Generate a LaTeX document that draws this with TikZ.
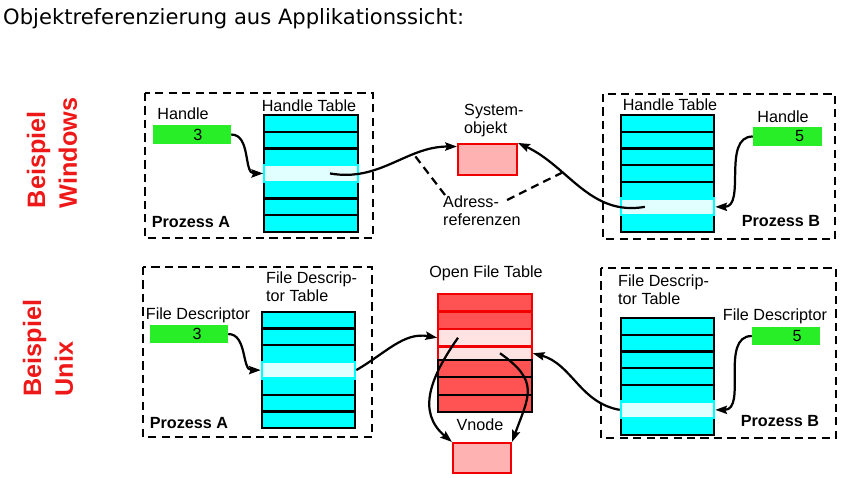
\documentclass[tikz,border=0pt]{standalone}
\usepackage{fontspec}
\setmainfont{Liberation Sans}
\newfontfamily\titlefont{DejaVu Sans}
\usetikzlibrary{arrows.meta}
\definecolor{tabcyan}{RGB}{0,255,255}
\definecolor{tablight}{RGB}{225,255,255}
\definecolor{idgreen}{RGB}{40,238,40}
\definecolor{objred}{RGB}{240,0,0}
\definecolor{objpink}{RGB}{255,178,178}
\definecolor{oftred}{RGB}{255,82,82}
\definecolor{oftlight}{RGB}{255,226,226}
\definecolor{exred}{RGB}{238,24,24}

\begin{document}
\begin{tikzpicture}[x=0.03cm, y=-0.03cm,
    txt/.style={font=\fontsize{13.8}{15}\selectfont, inner sep=0pt, align=left},
    bold/.style={txt, font=\fontsize{13.8}{15}\selectfont\bfseries},
    example/.style={rotate=90, align=left, text=exred, inner sep=0pt,
                    font=\fontsize{21.5}{27}\selectfont\bfseries},
    procbox/.style={draw, line width=2pt, dash pattern=on 7pt off 4.5pt},
    cell/.style={draw=black, fill=tabcyan, line width=1.9pt, inner sep=0pt,
                 minimum width=2.8cm, minimum height=0.5cm},
    hl/.style={draw=tabcyan, fill=tablight},
    idbox/.style={fill=idgreen, inner sep=0pt, minimum height=0.56cm,
                  font=\fontsize{13.8}{15}\selectfont},
    obj/.style={draw=objred, fill=objpink, line width=1.8pt, inner sep=0pt},
    ofrow/.style={draw=objred, fill=oftred, line width=1.8pt, inner sep=0pt,
                  minimum width=2.8cm},
    link/.style={-{Stealth[length=10pt, width=7pt, inset=1.5pt]}, line width=1.9pt},
    refline/.style={line width=1.9pt, dash pattern=on 7pt off 4.5pt}
  ]
    \useasboundingbox (0,0) rectangle (843,477);

    \node[anchor=base west, inner sep=0pt, font=\titlefont\fontsize{18}{20}\selectfont]
      (title) at (3,24) {Objektreferenzierung aus Applikationssicht:};

    \node[example] (exwin) at (52,153) {Beispiel\\Windows};
    \node[example] (exunix) at (48,348) {Beispiel\\Unix};

    % Windows
    \draw[procbox] (145,93) rectangle (373,238);
    \draw[procbox] (603,94) rectangle (835,239);

    \node[txt] (hdla) at (183,114) {Handle};
    \node[idbox, minimum width=2.34cm] (hda) at (192,134.5) {\hspace*{0.35cm}3};
    \node[txt] (htla) at (309,106) {Handle Table};
    \foreach \i in {1,2,3,5,6,7}
      \node[cell] (hta\i) at (311,{115+16.7*(\i-0.5)}) {};
    \node[cell, hl] (hta4) at (311,{115+16.7*3.5}) {};
    \node[bold] (pwa) at (191,222) {Prozess A};

    \node[txt] (hdlb) at (783,117) {Handle};
    \node[idbox, minimum width=2.07cm] (hdb) at (787.5,136.5) {\hspace*{0.72cm}5};
    \node[txt] (htlb) at (670,105) {Handle Table};
    \foreach \i in {1,...,5,7}
      \node[cell] (htb\i) at (667.5,{115+16.7*(\i-0.5)}) {};
    \node[cell, hl] (htb6) at (667.5,{115+16.7*5.5}) {};
    \node[bold] (pwb) at (781,221) {Prozess B};

    \node[txt, anchor=north west] (syslbl) at (464,104) {System-\\objekt};
    \node[obj, minimum width=1.77cm, minimum height=0.93cm] (sysobj) at (487.5,159.5) {};
    \node[txt, anchor=north west] (adr) at (443,196) {Adress-\\referenzen};
    \coordinate (adrl) at (445,195);
    \coordinate (adrr) at (507,200);

    \draw[link] (hda.east) to[out=0, in=180] (hta4.west);
    \draw[link] ([xshift=0.57cm]hta4.center) to[out=-10, in=180]
      coordinate[pos=0.68] (refa) (sysobj.157);
    \draw[link] (hdb.west) to[out=180, in=0] (htb6.east);
    \draw[link] ([xshift=-0.68cm]htb6.center) to[out=190, in=-25]
      coordinate[pos=0.66] (refb) (sysobj.north east);
    \draw[refline] (adrl) -- (refa);
    \draw[refline] (adrr) -- (refb);

    % Unix
    \draw[procbox] (143,267) rectangle (372,437);
    \draw[procbox] (601,268) rectangle (836,438);

    \node[txt] (fdla) at (198,315) {File Descriptor};
    \node[idbox, minimum width=2.34cm] (fda) at (189,334) {\hspace*{0.48cm}3};
    \node[txt, anchor=north west] (ftla) at (266,272) {File Descrip-\\tor Table};
    \foreach \i in {1,2,3,5,6,7}
      \node[cell] (fta\i) at (308.5,{312+16.6*(\i-0.5)}) {};
    \node[cell, hl] (fta4) at (308.5,{312+16.6*3.5}) {};
    \node[bold] (pua) at (189,423) {Prozess A};

    \node[txt] (fdlb) at (775,316) {File Descriptor};
    \node[idbox, minimum width=2.04cm] (fdb) at (786,336) {\hspace*{0.66cm}5};
    \node[txt, anchor=north west] (ftlb) at (618,275) {File Descrip-\\tor Table};
    \foreach \i in {1,...,5,7}
      \node[cell] (ftb\i) at (667.5,{318+16.7*(\i-0.5)}) {};
    \node[cell, hl] (ftb6) at (667.5,{318+16.7*5.5}) {};
    \node[bold] (pub) at (780,421) {Prozess B};

    \node[txt] (oftl) at (486,273) {Open File Table};
    \node[ofrow, minimum height=0.525cm] (oft1) at (485,302.75) {};
    \node[ofrow, minimum height=0.525cm] (oft2) at (485,320.25) {};
    \node[ofrow, minimum height=0.525cm, fill=oftlight] (oft3) at (485,337.75) {};
    \node[ofrow, minimum height=0.405cm, fill=oftlight] (oft4) at (485,353.25) {};
    \foreach \i/\y in {5/368.67, 6/386, 7/403.33}
      \node[ofrow, draw=black, minimum height=0.52cm] (oft\i) at (485,\y) {};

    \node[txt] (vnl) at (480,425) {Vnode};
    \node[obj, minimum width=1.74cm, minimum height=0.9cm] (vnode) at (482,458) {};

    \draw[link] (fda.east) to[out=0, in=180] (fta4.west);
    \draw[link] (fta4.east) to[out=30, in=170] (oft3.west);
    \draw[link] (fdb.west) to[out=180, in=0] (ftb6.east);
    \draw[link] (ftb6.west) to[out=170, in=-15] (oft4.east);
    \draw[link] ([xshift=-0.81cm]oft3.center) to[out=235, in=140, looseness=1.15] (vnode.north west);
    \draw[link] ([xshift=0.45cm]oft4.center) to[out=-35, in=70, looseness=1.4] (vnode.north east);
  \end{tikzpicture}
\end{document}
